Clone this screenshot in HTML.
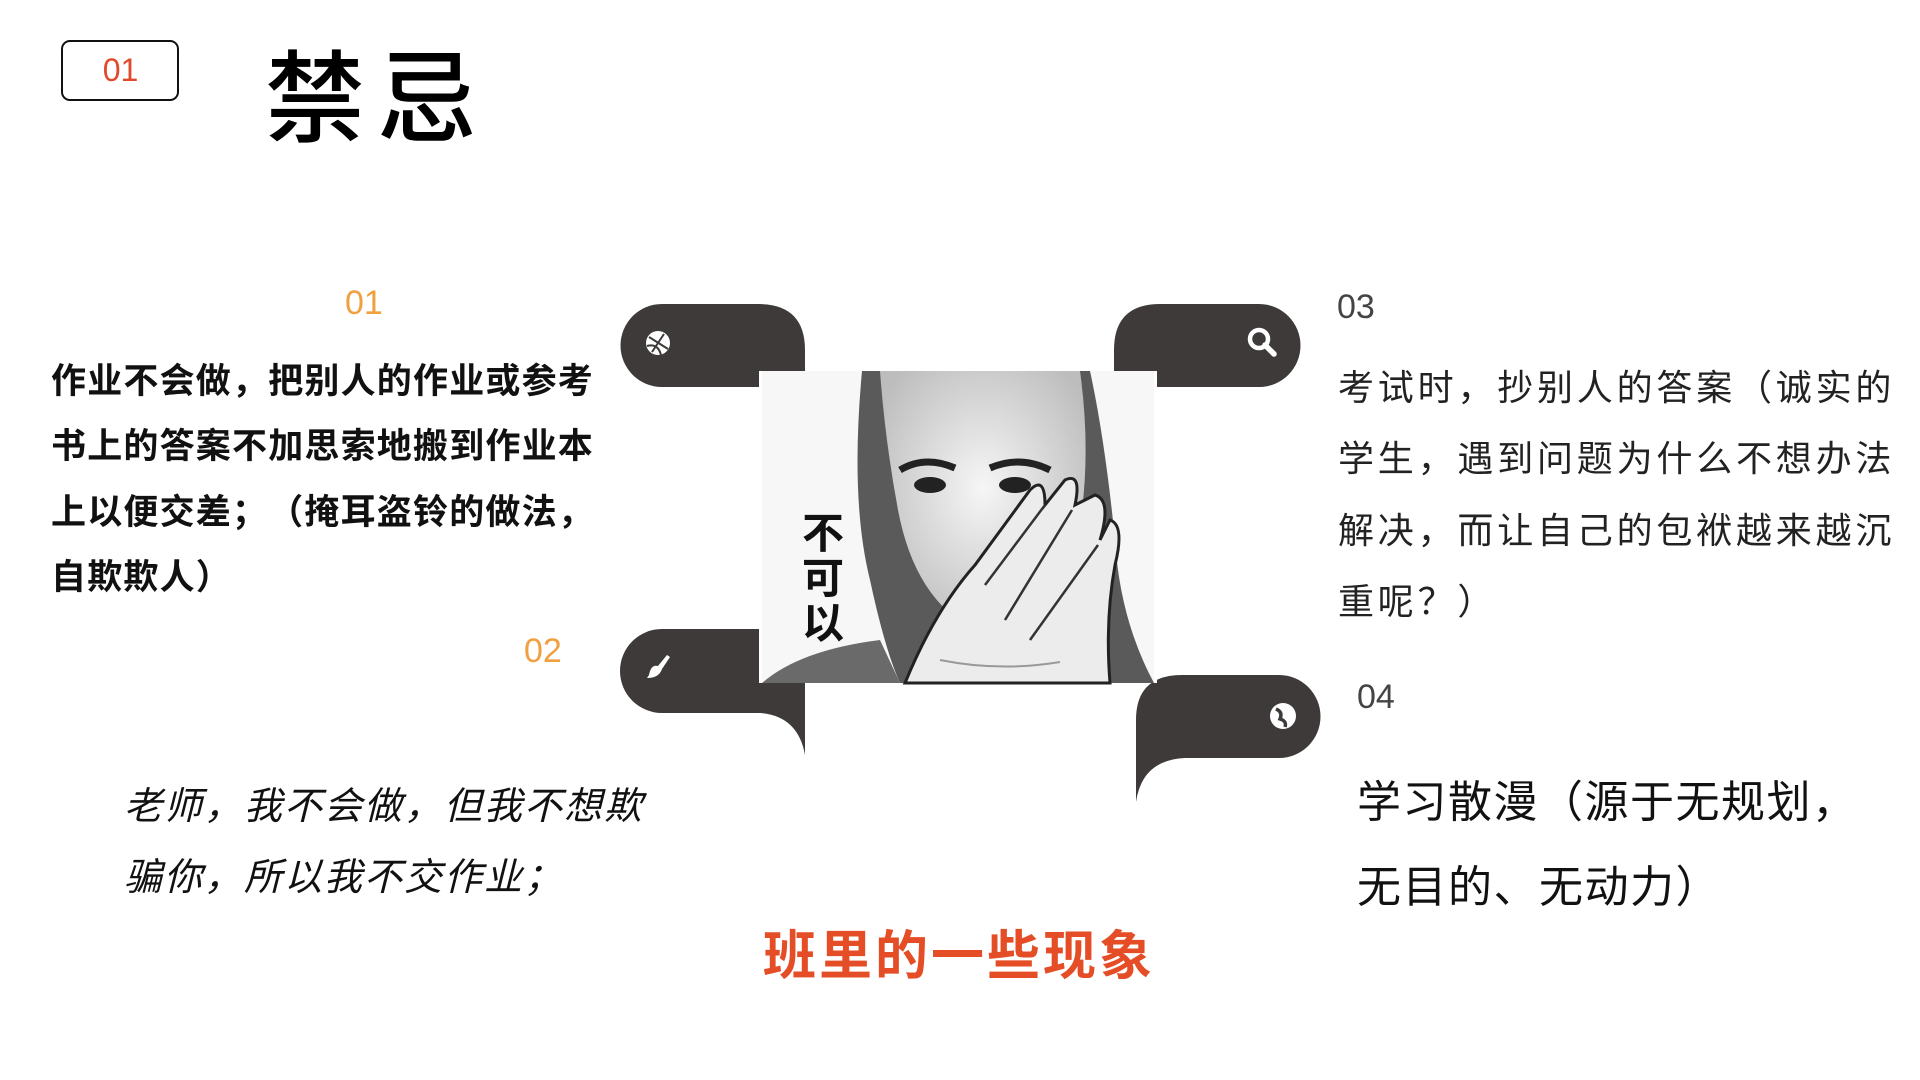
<!DOCTYPE html>
<html><head><meta charset="utf-8"><style>
html,body{margin:0;padding:0;background:#fff;}
body{width:1920px;height:1080px;position:relative;overflow:hidden;font-family:"Liberation Sans","Noto Sans CJK SC",sans-serif;text-spacing-trim:space-all;}
.a{position:absolute;white-space:nowrap;}
</style></head><body>
<div class="a" style="left:61px;top:40px;width:114px;height:57px;border:2.5px solid #111;border-radius:9px;"></div>
<div class="a" style="left:61px;top:50px;width:119px;text-align:center;color:#e04a2a;font-size:32px;line-height:40px;">01</div>
<div class="a" style="left:265px;top:40px;font-size:100px;line-height:120px;color:#000;font-weight:500;letter-spacing:12px;">禁忌</div>

<div class="a" style="left:345px;top:283px;font-size:34px;line-height:40px;color:#f0a040;">01</div>
<div class="a" style="left:51px;top:349px;font-size:35px;line-height:65.3px;font-weight:bold;letter-spacing:1.2px;color:#111;">作业不会做，把别人的作业或参考<br>书上的答案不加思索地搬到作业本<br>上以便交差；（掩耳盗铃的做法，<br>自欺欺人）</div>
<div class="a" style="left:524px;top:631px;font-size:34px;line-height:40px;color:#f0a040;">02</div>
<div class="a" style="left:124px;top:772px;font-size:38px;line-height:71px;font-style:italic;color:#111;letter-spacing:2px;">老师，我不会做，但我不想欺<br>骗你，所以我不交作业；</div>

<div class="a" style="left:1337px;top:287px;font-size:34px;line-height:40px;color:#444;">03</div>
<div class="a" style="left:1338px;top:352px;font-size:36px;line-height:71.3px;color:#222;letter-spacing:3.8px;">考试时，抄别人的答案（诚实的<br>学生，遇到问题为什么不想办法<br>解决，而让自己的包袱越来越沉<br>重呢？）</div>
<div class="a" style="left:1357px;top:677px;font-size:34px;line-height:40px;color:#444;">04</div>
<div class="a" style="left:1357px;top:760px;font-size:44px;line-height:85px;color:#111;letter-spacing:1.5px;">学习散漫（源于无规划，<br>无目的、无动力）</div>

<div class="a" style="left:763px;top:922px;font-size:53px;line-height:70px;font-weight:bold;color:#e44d26;letter-spacing:3px;">班里的一些现象</div>

<svg class="a" style="left:0;top:0" width="1920" height="1080">
<g fill="#3e3a39">
<path d="M662,304 H758 Q805,304 805,350 V387 H662 A41.5,41.5 0 0 1 662,304 Z"/>
<path d="M1160,304 H1259 A41.5,41.5 0 0 1 1259,387 H1114 V350 Q1114,304 1160,304 Z"/>
<path d="M662,629 H805 V755 Q798,716 760,713 H662 A42,42 0 0 1 662,629 Z"/>
<path d="M1182,675 H1279 A41.5,41.5 0 0 1 1279,758 H1185 Q1142,760 1136,802 V720 Q1136,675 1182,675 Z"/>
</g>
<rect x="759" y="371" width="398" height="312" fill="#fff"/>
<defs><radialGradient id="f" cx="0.5" cy="0.45" r="0.6"><stop offset="0" stop-color="#f6f6f6"/><stop offset="1" stop-color="#bdbdbd"/></radialGradient></defs>
<rect x="762" y="371" width="392" height="312" fill="#f7f7f7"/>
<path d="M862,371 Q850,500 870,580 Q885,650 900,683 H1154 Q1120,620 1115,540 Q1105,440 1090,371 Z" fill="#5a5a5a"/>
<path d="M880,371 H1080 Q1095,480 1070,570 Q1030,640 975,630 Q915,600 898,510 Q885,440 880,371 Z" fill="url(#f)"/>
<path d="M900,470 Q925,455 955,468 M990,468 Q1020,455 1050,470" stroke="#222" stroke-width="7" fill="none"/>
<ellipse cx="930" cy="485" rx="16" ry="8" fill="#222"/>
<ellipse cx="1015" cy="485" rx="16" ry="8" fill="#222"/>
<path d="M762,683 Q800,650 880,640 L900,683 Z" fill="#6a6a6a"/>
<path d="M905,683 Q935,610 975,565 L1030,490 Q1045,475 1045,505 L1065,480 Q1082,472 1075,505 L1095,495 Q1112,500 1100,540 L1110,520 Q1125,525 1115,565 Q1105,620 1110,683 Z" fill="#ececec" stroke="#222" stroke-width="3"/>
<path d="M985,585 L1045,505 M1005,620 L1072,510 M1030,640 L1098,545" stroke="#333" stroke-width="2.5" fill="none"/>
<path d="M940,660 Q1000,672 1060,662" stroke="#999" stroke-width="2" fill="none"/>
<g font-family="Liberation Sans,Noto Sans CJK SC,sans-serif" font-size="42" font-weight="bold" fill="#111" text-anchor="middle">
<text x="823" y="548">不</text>
<text x="823" y="593">可</text>
<text x="823" y="638">以</text>
</g>
<g fill="#fff">
<circle cx="658" cy="343" r="12"/>
<path d="M649,337 L668,349 M652,352 L664,334 M647,346 Q658,343 661,355" stroke="#3e3a39" stroke-width="2" fill="none"/>
<circle cx="1259" cy="339" r="9" fill="none" stroke="#fff" stroke-width="4.5"/>
<path d="M1265,345 L1274,354" stroke="#fff" stroke-width="5.5" stroke-linecap="round"/>
<path d="M649,675 Q651,664 658,666 L667,655 L670,657 L662,669 Q659,678 647,678 Z"/>
<circle cx="1283" cy="716" r="13"/>
<path d="M1276,709 Q1283,712 1280,719 Q1287,721 1285,727" stroke="#3e3a39" stroke-width="3.5" fill="none"/>
</g>
</svg>
</body></html>
